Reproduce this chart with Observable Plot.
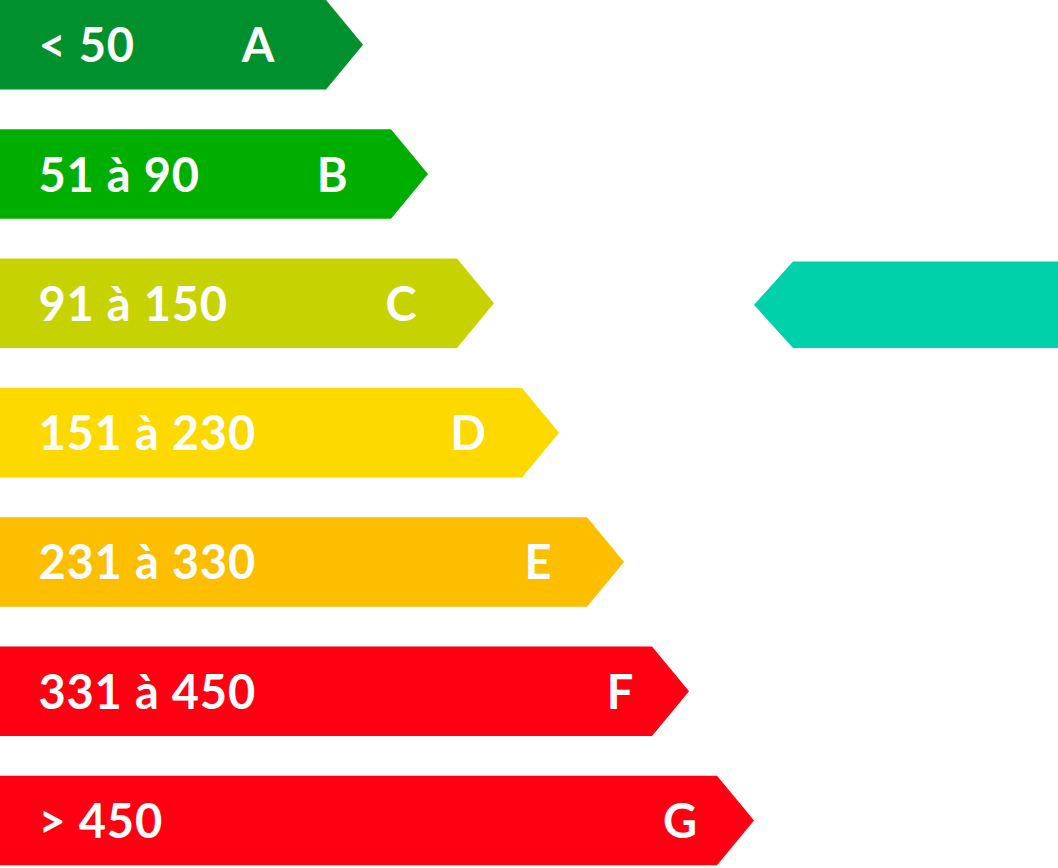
<!DOCTYPE html>
<html>
<head>
<meta charset="utf-8">
<script src="https://cdn.jsdelivr.net/npm/d3@7"></script>
<script src="https://cdn.jsdelivr.net/npm/@observablehq/plot@0.6"></script>
<style>
  html, body { margin: 0; padding: 0; background: #fff; }
  #chart svg { display: block; }
  #chart svg text { letter-spacing: 0.8px; }
</style>
</head>
<body>
<div id="chart"></div>
<script>
// ---- data ----
const grades = ["A", "B", "C", "D", "E", "F", "G"];
const ranges = ["< 50", "51 à 90", "91 à 150", "151 à 230", "231 à 330", "331 à 450", "> 450"];
const barLength = [326, 391, 457, 522, 587, 652, 717];
const colors = ["#00912e", "#00ae00", "#c6d300", "#fed900", "#fdbe00", "#ff0013", "#ff0013"];
const currentGrade = "C";

// ---- layout ----
const W = 1058, H = 868;
const rowPitch = 129.3, rowH = 89.5, tip = 37;
const letterX = [258, 332, 401, 468, 538, 620, 680];
const markerStart = 754;

const rows = grades.map((g, i) => ({
  grade: g, range: ranges[i], len: barLength[i], color: colors[i],
  top: i * rowPitch, mid: i * rowPitch + rowH / 2, bottom: i * rowPitch + rowH,
  letterX: letterX[i]
}));

const arrowPts = rows.flatMap(r => [
  {grade: r.grade, y: r.top, x1: 0, x2: r.len, color: r.color},
  {grade: r.grade, y: r.mid, x1: 0, x2: r.len + tip, color: r.color},
  {grade: r.grade, y: r.bottom, x1: 0, x2: r.len, color: r.color}
]);

const cur = rows[grades.indexOf(currentGrade)];
const mTop = cur.top + 3, mBot = cur.bottom;
const markerPts = [
  {y: mTop, x1: markerStart + 39, x2: W},
  {y: (mTop + mBot) / 2, x1: markerStart, x2: W},
  {y: mBot, x1: markerStart + 39, x2: W}
];

const font = "Lato, 'Open Sans', sans-serif";

const chart = Plot.plot({
  width: W, height: H,
  margin: 0,
  x: {domain: [0, W], range: [0, W], axis: null},
  y: {domain: [0, H], range: [0, H], axis: null},
  marks: [
    Plot.areaX(arrowPts, {y: "y", x1: "x1", x2: "x2", z: "grade", fill: d => d.color, curve: "linear"}),
    Plot.areaX(markerPts, {y: "y", x1: "x1", x2: "x2", fill: "#00d1ab", curve: "linear"}),
    Plot.text(rows, {x: 38, y: "mid", dy: 2, text: "range", textAnchor: "start", fill: "white",
      fontSize: 47, fontWeight: 700, fontFamily: font}),
    Plot.text(rows, {x: "letterX", y: "mid", dy: 2, text: "grade", textAnchor: "middle", fill: "white",
      fontSize: 47, fontWeight: 700, fontFamily: font})
  ]
});
document.getElementById("chart").appendChild(chart);
</script>
</body>
</html>
